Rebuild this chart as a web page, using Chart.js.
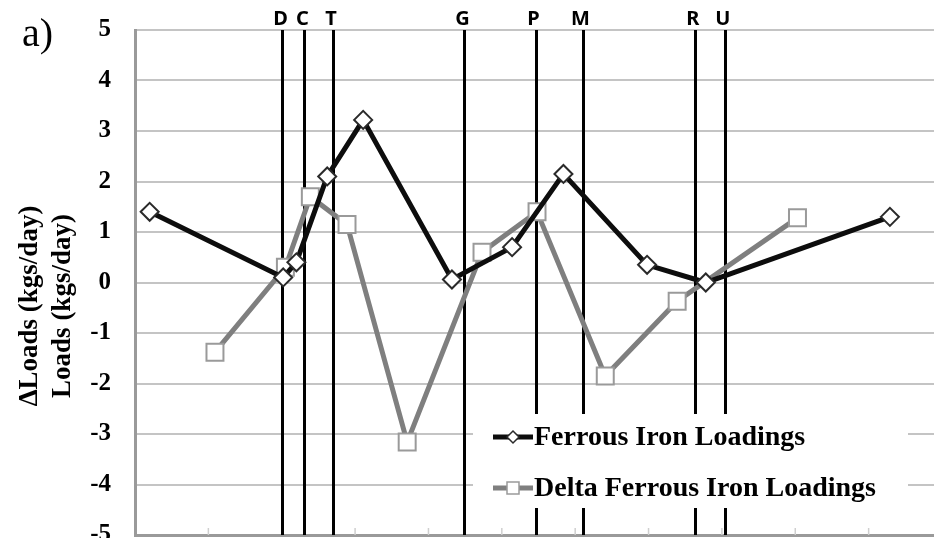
<!DOCTYPE html>
<html>
<head>
<meta charset="utf-8">
<script src="https://cdn.jsdelivr.net/npm/chart.js@4"></script>
<style>
html, body { margin: 0; padding: 0; background: #fff; overflow: hidden; }
#wrap { width: 934px; height: 538px; overflow: hidden; position: relative; }
#box { width: 960px; height: 560px; position: absolute; left: 0; top: 0; }
</style>
</head>
<body>
<div id="wrap"><div id="box"><canvas id="chart"></canvas></div></div>
<script>
// distance along the stream (arbitrary units) and loads
var ferrousX = [0.20, 2.02, 2.20, 2.62, 3.11, 4.32, 5.14, 5.84, 6.98, 7.78, 10.29];
var ferrousY = [1.40, 0.10, 0.40, 2.10, 3.22, 0.06, 0.70, 2.15, 0.35, 0.00, 1.30];

var deltaX = [1.09, 2.05, 2.39, 2.89, 3.71, 4.73, 5.48, 6.41, 7.39, 9.03];
var deltaY = [-1.38, 0.30, 1.70, 1.15, -3.16, 0.60, 1.40, -1.85, -0.37, 1.28];

var siteLabels = ['D', 'C', 'T', 'G', 'P', 'M', 'R', 'U'];
var siteX = [2.01, 2.31, 2.70, 4.49, 5.46, 6.10, 7.63, 8.04];

var yTitle = ['\u0394Loads (kgs/day)', 'Loads (kgs/day)'];
var seriesNames = ['Ferrous Iron Loadings', 'Delta Ferrous Iron Loadings'];

function pts(xs, ys) {
    return xs.map(function (x, i) { return { x: x, y: ys[i] }; });
}

var serif = '"Liberation Serif", "Times New Roman", serif';

var overlay = {
    id: 'overlay',
    beforeDatasetsDraw: function (chart) {
        var ctx = chart.ctx, area = chart.chartArea, sx = chart.scales.x;
        ctx.save();
        // faint x tick marks
        ctx.strokeStyle = '#cfcfcf';
        ctx.lineWidth = 1.5;
        for (var v = 1; v <= 10; v++) {
            var px = sx.getPixelForValue(v);
            ctx.beginPath();
            ctx.moveTo(px, area.bottom);
            ctx.lineTo(px, area.bottom - 7);
            ctx.stroke();
        }
        // site lines
        ctx.strokeStyle = '#000';
        ctx.lineWidth = 3;
        siteX.forEach(function (s) {
            var px = Math.round(sx.getPixelForValue(s)) + 0.5;
            ctx.beginPath();
            ctx.moveTo(px, area.top);
            ctx.lineTo(px, area.bottom);
            ctx.stroke();
        });
        ctx.restore();
    },
    afterDraw: function (chart) {
        var ctx = chart.ctx, sx = chart.scales.x;
        ctx.save();
        // site letters
        ctx.fillStyle = '#000';
        ctx.font = 'bold 20px "Noto Sans", sans-serif';
        ctx.textAlign = 'center';
        ctx.textBaseline = 'alphabetic';
        siteX.forEach(function (s, i) {
            ctx.fillText(siteLabels[i], sx.getPixelForValue(s) - 2, 25);
        });
        // panel letter
        ctx.textAlign = 'left';
        ctx.font = '40px ' + serif;
        ctx.fillText('a)', 22, 46);
        // y title
        ctx.font = 'bold 27px ' + serif;
        ctx.textAlign = 'center';
        ctx.textBaseline = 'middle';
        [30, 63].forEach(function (x, i) {
            ctx.save();
            ctx.translate(x, 306);
            ctx.rotate(-Math.PI / 2);
            ctx.fillText(yTitle[i], 0, 0);
            ctx.restore();
        });
        // legend
        ctx.fillStyle = '#fff';
        ctx.fillRect(473, 414, 435, 94);
        var rows = [437, 488];
        chart.data.datasets.forEach(function (ds, i) {
            var y = rows[i];
            ctx.strokeStyle = ds.borderColor;
            ctx.lineWidth = 5;
            ctx.beginPath();
            ctx.moveTo(493, y);
            ctx.lineTo(533, y);
            ctx.stroke();
            ctx.fillStyle = '#fff';
            ctx.strokeStyle = ds.pointBorderColor;
            ctx.lineWidth = 1.5;
            ctx.beginPath();
            if (ds.pointStyle === 'rectRot') {
                ctx.moveTo(513, y - 6); ctx.lineTo(519, y); ctx.lineTo(513, y + 6); ctx.lineTo(507, y);
                ctx.closePath();
            } else {
                ctx.rect(507, y - 6, 12, 12);
            }
            ctx.fill();
            ctx.stroke();
            ctx.fillStyle = '#000';
            ctx.font = 'bold 28px ' + serif;
            ctx.textAlign = 'left';
            ctx.textBaseline = 'middle';
            ctx.fillText(ds.label, 534, y + 1);
        });
        ctx.restore();
    }
};

new Chart(document.getElementById('chart'), {
    type: 'line',
    data: {
        datasets: [{
            label: seriesNames[0],
            data: pts(ferrousX, ferrousY),
            borderColor: '#0d0d0d',
            borderWidth: 5,
            pointStyle: 'rectRot',
            pointRadius: 9,
            pointBackgroundColor: '#fff',
            pointBorderColor: '#2a2a2a',
            pointBorderWidth: 2,
            tension: 0
        }, {
            label: seriesNames[1],
            data: pts(deltaX, deltaY),
            borderColor: '#7f7f7f',
            borderWidth: 5,
            pointStyle: 'rect',
            pointRadius: 12,
            pointBackgroundColor: '#fff',
            pointBorderColor: '#9a9a9a',
            pointBorderWidth: 2,
            tension: 0
        }]
    },
    options: {
        responsive: true,
        maintainAspectRatio: false,
        animation: false,
        layout: { padding: { top: 30, right: 18, bottom: 25, left: 0 } },
        plugins: {
            legend: { display: false },
            tooltip: { enabled: false }
        },
        scales: {
            x: {
                type: 'linear',
                min: 0,
                max: 11,
                ticks: { display: false },
                grid: { display: false },
                border: { display: true, color: '#9a9a9a', width: 3 },
                afterFit: function (s) { s.height = 0; s.paddingLeft = 0; s.paddingRight = 0; }
            },
            y: {
                min: -5,
                max: 5,
                ticks: {
                    stepSize: 1,
                    color: '#000',
                    padding: 24,
                    font: { family: serif, size: 25, weight: 'bold' }
                },
                grid: { color: '#c4c4c4', lineWidth: 2, drawTicks: false },
                border: { color: '#9a9a9a', width: 3 },
                afterFit: function (s) { s.width = 135; s.paddingTop = 0; s.paddingBottom = 0; }
            }
        }
    },
    plugins: [overlay]
});
</script>
</body>
</html>
